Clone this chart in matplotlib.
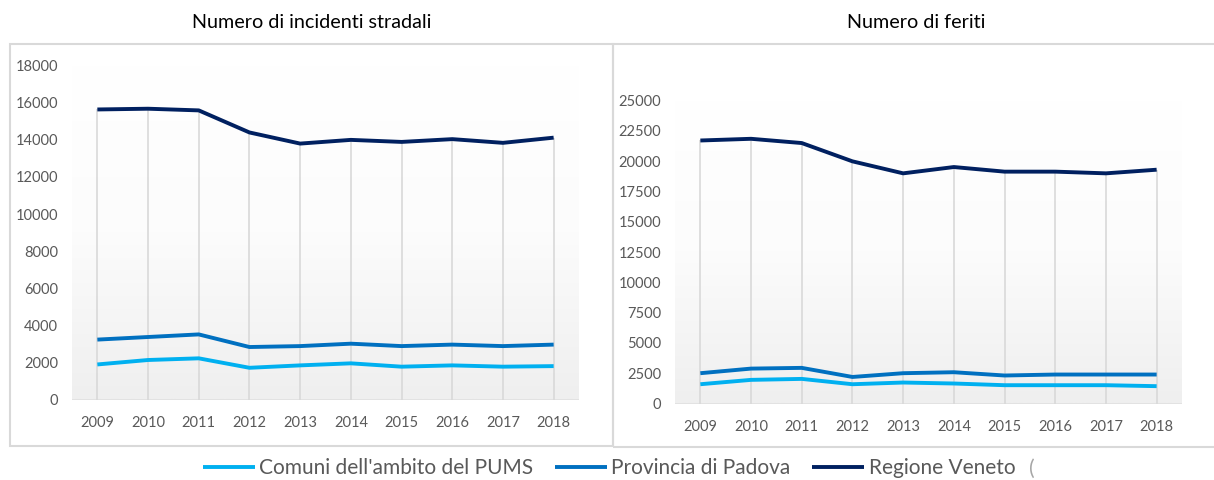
import numpy as np
import matplotlib
matplotlib.use("Agg")
import matplotlib.pyplot as plt
from matplotlib.colors import LinearSegmentedColormap
from matplotlib.patches import Rectangle

plt.rcParams['font.family'] = ['Lato', 'DejaVu Sans']

years = ['2009', '2010', '2011', '2012', '2013', '2014', '2015', '2016', '2017', '2018']
series_names = ["Comuni dell'ambito del PUMS", "Provincia di Padova", "Regione Veneto"]
series_colors = ['#00B0F0', '#0070C0', '#002060']

# incidenti stradali
incidenti_comuni = [1890, 2130, 2220, 1710, 1840, 1950, 1770, 1840, 1770, 1800]
incidenti_provincia = [3230, 3370, 3510, 2830, 2880, 3010, 2880, 2960, 2880, 2960]
incidenti_regione = [15640, 15680, 15590, 14400, 13800, 14000, 13890, 14040, 13840, 14120]

# feriti
feriti_comuni = [1590, 1950, 2030, 1590, 1730, 1650, 1510, 1510, 1510, 1430]
feriti_provincia = [2500, 2880, 2940, 2190, 2500, 2580, 2310, 2390, 2390, 2390]
feriti_regione = [21700, 21840, 21490, 19980, 18990, 19510, 19130, 19130, 18990, 19290]

titles = ['Numero di incidenti stradali', 'Numero di feriti']

W, H = 1214, 480
fig = plt.figure(figsize=(W / 100, H / 100), dpi=100)

grad = LinearSegmentedColormap.from_list('bg', ['#ffffff', '#fcfcfc', '#efefef'])


def px(x0, y0, x1, y1):
    # pixel box (top-left origin) -> figure fraction rect
    return [x0 / W, 1 - y1 / H, (x1 - x0) / W, (y1 - y0) / H]


def draw_panel(ax, data, ymax, ystep):
    x = np.arange(len(years))
    ax.imshow(np.linspace(0, 1, 256).reshape(-1, 1), extent=[0, 1, 0, 1],
              transform=ax.transAxes, cmap=grad, aspect='auto', zorder=0)
    ax.vlines(x, 0, data[2], color='#d9d9d9', lw=1.2, zorder=1)
    ax.axhline(0, color='#d9d9d9', lw=1.8, zorder=1)
    for vals, col, name in zip(data, series_colors, series_names):
        ax.plot(x, vals, color=col, lw=2.8, label=name, zorder=3,
                solid_capstyle='butt', clip_on=False)
    ax.set_xlim(-0.5, 9.5)
    ax.set_ylim(0, ymax)
    ax.set_xticks(x)
    ax.set_xticklabels(years)
    ax.set_yticks(np.arange(0, ymax + 1, ystep))
    ax.tick_params(length=0, labelcolor='#595959', labelsize=10.5)
    ax.tick_params(axis='x', pad=12)
    ax.tick_params(axis='y', pad=10)
    for s in ax.spines.values():
        s.set_visible(False)


ax1 = fig.add_axes(px(72, 65.7, 579, 399.5))
draw_panel(ax1, [incidenti_comuni, incidenti_provincia, incidenti_regione], 18000, 2000)

ax2 = fig.add_axes(px(675, 100.5, 1182, 403.5))
draw_panel(ax2, [feriti_comuni, feriti_provincia, feriti_regione], 25000, 2500)

# panel frames
fig.add_artist(Rectangle((9.5 / W, 1 - 446 / H), 603.5 / W, 402 / H, transform=fig.transFigure,
                         fill=False, edgecolor='#d9d9d9', lw=1.5))
fig.add_artist(Rectangle((613 / W, 1 - 447 / H), 0.52, 403 / H, transform=fig.transFigure,
                         fill=False, edgecolor='#d9d9d9', lw=1.5))

fig.text(312 / W, 1 - 22 / H, titles[0], ha='center', va='center', fontsize=14.2, color='black')
fig.text(916 / W, 1 - 22 / H, titles[1], ha='center', va='center', fontsize=14.2, color='black')

handles, labels = ax1.get_legend_handles_labels()
fig.legend(handles, labels, loc='center', bbox_to_anchor=(609 / W, 1 - 468 / H), ncol=3,
           frameon=False, fontsize=15, handlelength=2.5, handletextpad=0.2,
           columnspacing=1.05, labelcolor='#595959')
fig.text(1029 / W, 1 - 469 / H, '(', ha='left', va='center', fontsize=15, color='#a6a6a6')

fig.savefig('out.png', dpi=100)
